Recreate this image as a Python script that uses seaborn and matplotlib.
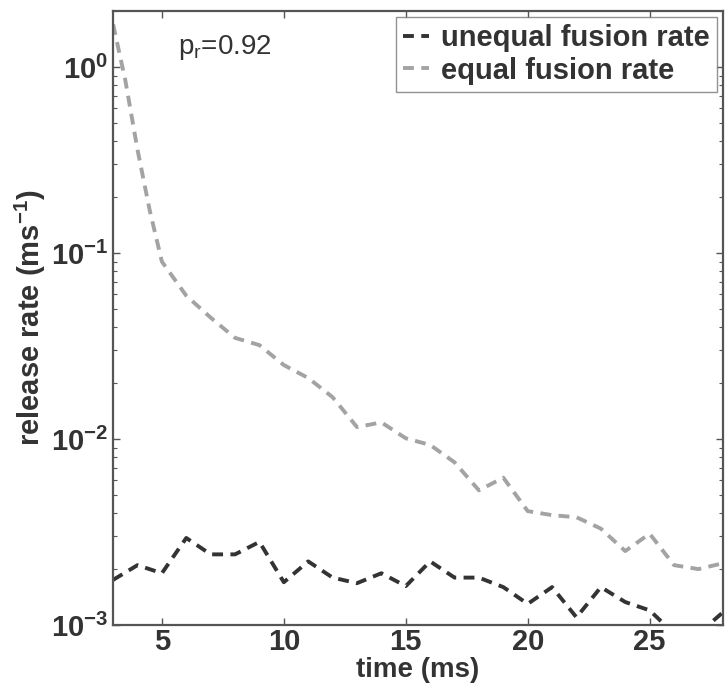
import numpy as np
import pandas as pd
import seaborn as sns
import matplotlib.pyplot as plt
from matplotlib.ticker import LogLocator, FixedLocator

# time points (ms)
time_equal = [3, 3.5, 4, 4.5, 5, 6, 7, 8, 9, 10, 11, 12, 13, 14, 15, 16, 17, 18, 19,
              20, 21, 22, 23, 24, 25, 26, 27, 28]
rate_equal = [1.7, 0.85, 0.36, 0.17, 0.09, 0.059, 0.045, 0.035, 0.032, 0.025, 0.0213,
              0.0168, 0.0116, 0.0123, 0.0101, 0.0093, 0.0075, 0.0053, 0.0062, 0.0041,
              0.0039, 0.0038, 0.0033, 0.0025, 0.0031, 0.0021, 0.0020, 0.00215]

time_unequal = list(range(3, 29))
rate_unequal = [0.00175, 0.0021, 0.0019, 0.00294, 0.0024, 0.0024, 0.0028, 0.0017,
                0.0022, 0.0018, 0.00168, 0.0019, 0.00162, 0.0022, 0.0018, 0.0018,
                0.0016, 0.0013, 0.0016, 0.0011, 0.0016, 0.00133, 0.0012, 0.0009,
                0.0009, 0.00117]

sns.set_style("ticks")
plt.rcParams['font.family'] = ['Liberation Sans', 'DejaVu Sans']
plt.rcParams['font.weight'] = 'bold'
plt.rcParams['mathtext.fontset'] = 'custom'
plt.rcParams['mathtext.rm'] = 'Liberation Sans:normal'
plt.rcParams['mathtext.bf'] = 'Liberation Sans:bold'
plt.rcParams['mathtext.default'] = 'bf'

fig = plt.figure(figsize=(7.25, 6.93), dpi=100)
ax = fig.add_axes([0.156, 0.098, 0.841, 0.886])

df_u = pd.DataFrame({'time': time_unequal, 'rate': rate_unequal})
df_e = pd.DataFrame({'time': time_equal, 'rate': rate_equal})

sns.lineplot(data=df_u, x='time', y='rate', ax=ax, color='#333333', lw=2.8,
             label='unequal fusion rate', dashes=False)
sns.lineplot(data=df_e, x='time', y='rate', ax=ax, color='#a3a3a3', lw=2.8,
             label='equal fusion rate', dashes=False)
for line in ax.get_lines():
    line.set_dashes([2.8, 1.9])

ax.set_yscale('log')
ax.set_xlim(3, 28)
ax.set_ylim(1e-3, 2)
ax.xaxis.set_major_locator(FixedLocator([5, 10, 15, 20, 25]))
ax.yaxis.set_major_locator(LogLocator(base=10, numticks=10))
ax.yaxis.set_minor_locator(LogLocator(base=10, subs=np.arange(2, 10), numticks=10))

ax.tick_params(axis='both', which='both', direction='in', top=True, right=True,
               labelsize=21, color='#555555', labelcolor='#333333')
ax.tick_params(which='major', length=5, width=1)
ax.tick_params(which='minor', length=3, width=0.8)
ax.tick_params(axis='x', pad=2)
for sp in ax.spines.values():
    sp.set_color('#555555')
    sp.set_linewidth(1.6)
    sp.set_visible(True)

ax.set_xlabel('time (ms)', fontsize=20, fontweight='bold', color='#333333', labelpad=1)
ax.set_ylabel('release rate (ms$^{-1}$)', fontsize=21, fontweight='bold',
              color='#333333', labelpad=2)

ax.text(0.107, 0.965, r'p$_\mathrm{r}$=0.92', transform=ax.transAxes,
        fontsize=20, fontweight='normal', color='#333333', va='top')

leg = ax.legend(loc='upper right', fontsize=21, frameon=True, fancybox=False,
                handlelength=0.9, handletextpad=0.4, borderpad=0.25,
                labelspacing=0.15, borderaxespad=0.2)
leg.get_frame().set_edgecolor('#777777')
leg.get_frame().set_linewidth(1.0)
for t in leg.get_texts():
    t.set_fontweight('bold')
    t.set_color('#333333')

plt.savefig('out.png', dpi=100)
